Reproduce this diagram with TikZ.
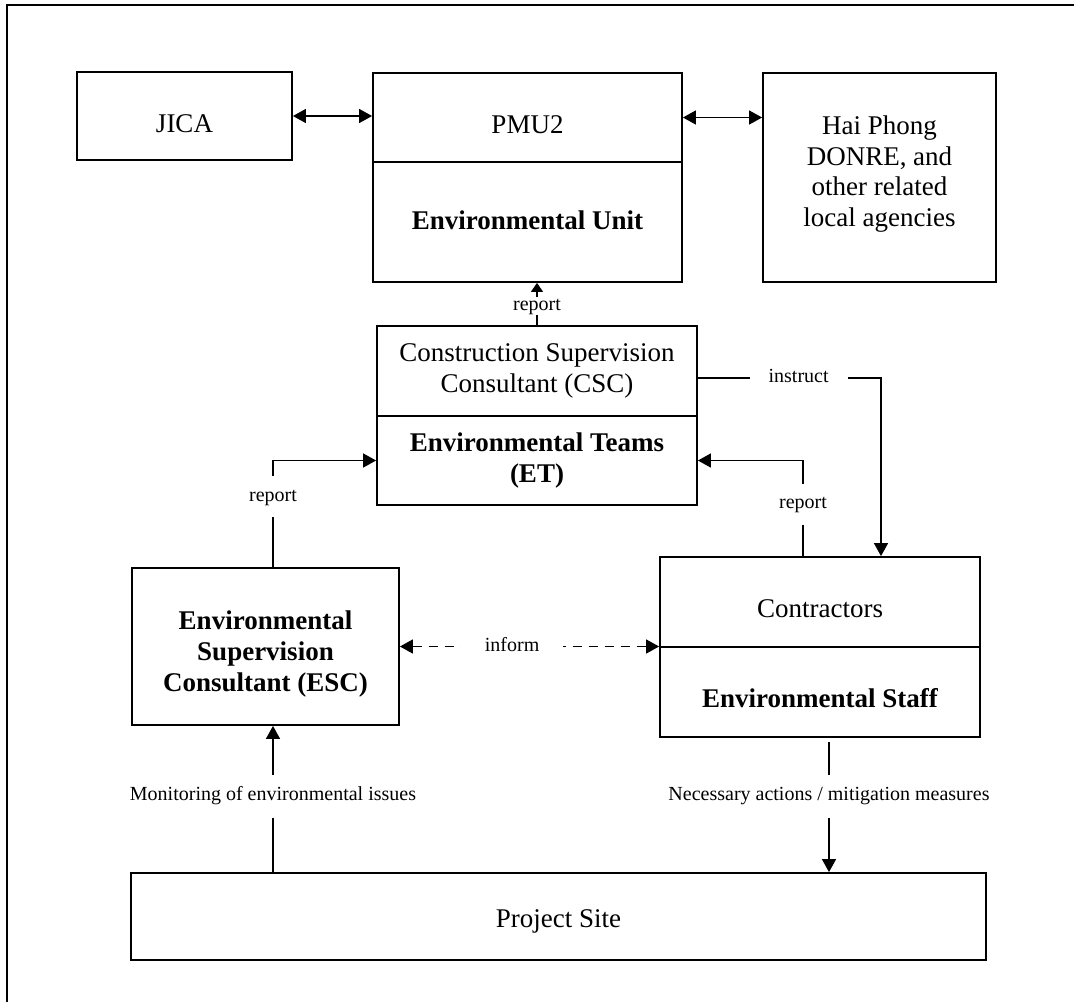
\documentclass[tikz,border=0pt]{standalone}
\usepackage{fontspec}
\setmainfont{Liberation Serif}
\usetikzlibrary{arrows.meta}
% lower the ink of a box's text without changing the box used for centring
\newcommand{\lowered}[2]{\raisebox{-#1}[\height][\depth]{#2}}
\newcommand{\lines}[1]{\begin{tabular}{@{}c@{}}#1\end{tabular}}
\begin{document}
\begin{tikzpicture}[x=1pt,y=-1pt,
  box/.style={draw,line width=1.8pt,rectangle,inner sep=0pt,align=center,
    font=\fontsize{27}{30.5}\selectfont},
  boldbox/.style={box,font=\fontsize{27}{31}\selectfont\bfseries},
  lbl/.style={fill=white,inner xsep=2pt,inner ysep=12pt,text height=14pt,text depth=5pt,
    font=\fontsize{20}{24}\selectfont},
  conn/.style={line width=1.4pt},
  tip/.tip={Triangle[length=13pt,width=14pt]},
  smalltip/.tip={Triangle[length=9pt,width=12pt]},
  arr/.style={conn,-tip},
  darr/.style={conn,tip-tip},
]
\useasboundingbox (0,0) rectangle (1074,1002);
% outer frame
\draw[line width=1.8pt] (7,1002) -- (7,5) -- (1074,5);

% top row
\node[box,minimum width=215pt,minimum height=88pt] (jica) at (184.5,116) {\lowered{8pt}{JICA}};
\node[box,minimum width=309pt,minimum height=89pt] (pmu) at (527.5,117.5) {\lowered{7pt}{PMU2}};
\node[boldbox,minimum width=309pt,minimum height=120pt] (eu) at (527.5,222)
  {\lowered{-2pt}{Environmental Unit}};
\node[box,minimum width=233pt,minimum height=209pt] (hp) at (879.5,177.5)
  {\lowered{-3pt}{\lines{Hai Phong\\DONRE, and\\other related\\local agencies}}};

% construction supervision consultant
\node[box,minimum width=320pt,minimum height=90pt] (csc) at (537,371)
  {Construction Supervision\\Consultant (CSC)};
\node[boldbox,minimum width=320pt,minimum height=89pt] (et) at (537,460.5)
  {Environmental Teams\\(ET)};

% environmental supervision consultant
\node[boldbox,minimum width=267pt,minimum height=157pt] (esc) at (265.5,646.5)
  {\lowered{8pt}{\lines{Environmental\\Supervision\\Consultant (ESC)}}};

% contractors
\node[box,minimum width=320pt,minimum height=90pt] (ctr) at (820,602)
  {\lowered{7pt}{Contractors}};
\node[boldbox,minimum width=320pt,minimum height=90pt] (es) at (820,692)
  {\lowered{6pt}{Environmental Staff}};

% project site
\node[box,minimum width=855pt,minimum height=87pt] (prj) at (558.5,916.5)
  {\lowered{5pt}{Project Site}};

% connectors
\draw[darr] (jica.east) -- (jica.east -| pmu.west);
\draw[darr] (pmu.east) -- (pmu.east -| hp.west);
\node[lbl,inner ysep=0pt,text height=13pt,text depth=4pt] (r1) at (537,306) {report};
\draw[conn] (csc.north) -- (r1.south);
\draw[conn,-smalltip] (r1.north) -- (r1.north |- eu.south);
\draw[arr] ([yshift=-7pt]csc.east) -| node[lbl,pos=0.275,inner xsep=19pt]{instruct}
  ([xshift=61pt]ctr.north);
\draw[arr] ([xshift=-17pt]ctr.north) |- node[lbl,pos=0.27,inner ysep=11pt]{report} (et.east);
\draw[arr] ([xshift=7.5pt]esc.north) |- node[lbl,pos=0.33,inner ysep=11pt]{report} (et.west);
\draw[conn,dash pattern=on 9pt off 7pt,tip-tip] (esc.east) --
  node[lbl,pos=0.433,inner xsep=24pt]{inform} (esc.east -| ctr.south west);
\draw[arr] ([xshift=7.5pt]esc.south |- prj.north) --
  node[lbl,pos=0.52]{Monitoring of environmental issues} ([xshift=7.5pt]esc.south);
\draw[arr,shorten <=4pt] ([xshift=9pt]es.south) --
  node[lbl,pos=0.434]{Necessary actions / mitigation measures} ([xshift=9pt]es.south |- prj.north);
\end{tikzpicture}
\end{document}
